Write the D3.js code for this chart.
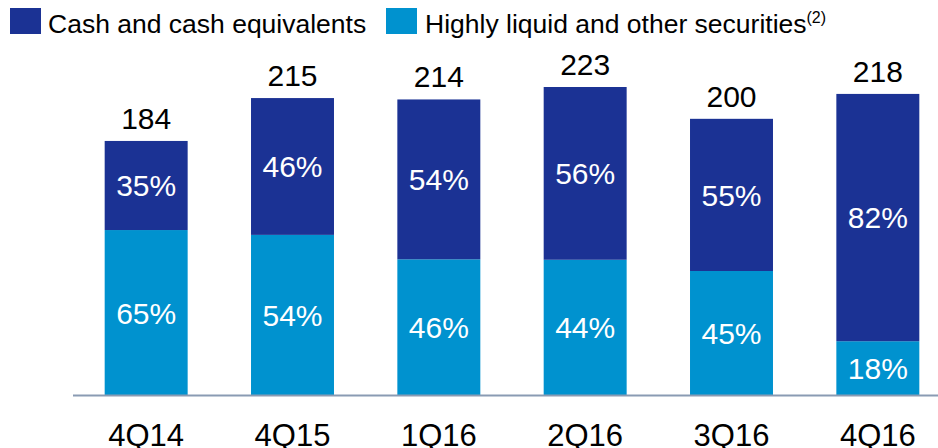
<!DOCTYPE html>
<html>
<head>
<meta charset="utf-8">
<script src="https://cdn.jsdelivr.net/npm/d3@7"></script>
<style>
  html, body { margin: 0; padding: 0; background: #fff; }
  svg { display: block; font-family: "Liberation Sans", Arial, sans-serif; }
</style>
</head>
<body>
<div id="chart"></div>
<script>
// Liquidity mix by quarter

const quarters = ['4Q14', '4Q15', '1Q16', '2Q16', '3Q16', '4Q16'];
const totals = [184, 215, 214, 223, 200, 218];
const cashPct = [35, 46, 54, 56, 55, 82];
const securitiesPct = [65, 54, 46, 44, 45, 18];

const W = 938, H = 448;
const darkBlue = '#1b3294';
const lightBlue = '#0092cf';

const svg = d3.select('#chart')
  .append('svg')
  .attr('width', W)
  .attr('height', H);

const x = d3.scaleBand()
  .domain(quarters)
  .range([73, 951])
  .paddingInner(0.433)
  .paddingOuter(0.2165);

const baseline = 395.5;
const y = d3.scaleLinear()
  .domain([0, 223])
  .range([baseline, 87]);

const rows = quarters.map((q, i) => ({
  q,
  total: totals[i],
  sec: totals[i] * securitiesPct[i] / 100,
  cashPct: cashPct[i],
  secPct: securitiesPct[i]
}));

const g = svg.append('g');

// securities (bottom)
g.selectAll('.sec')
  .data(rows)
  .join('rect')
  .attr('x', d => x(d.q))
  .attr('width', x.bandwidth())
  .attr('y', d => y(d.sec))
  .attr('height', d => y(0) - y(d.sec))
  .attr('fill', lightBlue);

// cash (top)
g.selectAll('.cash')
  .data(rows)
  .join('rect')
  .attr('x', d => x(d.q))
  .attr('width', x.bandwidth())
  .attr('y', d => y(d.total))
  .attr('height', d => y(d.sec) - y(d.total))
  .attr('fill', darkBlue);

// percent labels
g.selectAll('.secLbl')
  .data(rows)
  .join('text')
  .attr('x', d => x(d.q) + x.bandwidth() / 2)
  .attr('y', d => (y(0) + y(d.sec)) / 2)
  .attr('dy', '0.36em')
  .attr('text-anchor', 'middle')
  .attr('fill', '#fff')
  .style('font-size', '30px')
  .text(d => d.secPct + '%');

g.selectAll('.cashLbl')
  .data(rows)
  .join('text')
  .attr('x', d => x(d.q) + x.bandwidth() / 2)
  .attr('y', d => (y(d.sec) + y(d.total)) / 2)
  .attr('dy', '0.36em')
  .attr('text-anchor', 'middle')
  .attr('fill', '#fff')
  .style('font-size', '30px')
  .text(d => d.cashPct + '%');

// totals above bars
g.selectAll('.tot')
  .data(rows)
  .join('text')
  .attr('x', d => x(d.q) + x.bandwidth() / 2)
  .attr('y', d => y(d.total) - 12)
  .attr('text-anchor', 'middle')
  .attr('fill', '#000')
  .style('font-size', '30px')
  .text(d => d.total);

// axis
const axis = svg.append('g')
  .attr('transform', `translate(0, ${baseline})`)
  .call(d3.axisBottom(x).tickSize(0).tickPadding(0));
axis.select('.domain')
  .attr('d', `M73,0H${W}`)
  .attr('stroke', '#8a9bb3')
  .attr('stroke-width', 2);
axis.selectAll('.tick text')
  .attr('y', 50)
  .attr('dy', 0)
  .attr('fill', '#000')
  .style('font-size', '31px')
  .style('font-family', '"Liberation Sans", Arial, sans-serif');

// legend
const legend = svg.append('g');
legend.append('rect')
  .attr('x', 10).attr('y', 8).attr('width', 31).attr('height', 26)
  .attr('fill', darkBlue);
legend.append('text')
  .attr('x', 48).attr('y', 33)
  .style('font-size', '26.5px')
  .attr('fill', '#000')
  .text('Cash and cash equivalents');
legend.append('rect')
  .attr('x', 386).attr('y', 8).attr('width', 31).attr('height', 26)
  .attr('fill', lightBlue);
const t2 = legend.append('text')
  .attr('x', 425).attr('y', 33)
  .style('font-size', '26.5px')
  .attr('fill', '#000');
t2.append('tspan').text('Highly liquid and other securities');
t2.append('tspan')
  .attr('dy', -10)
  .style('font-size', '16px')
  .text('(2)');
</script>
</body>
</html>
